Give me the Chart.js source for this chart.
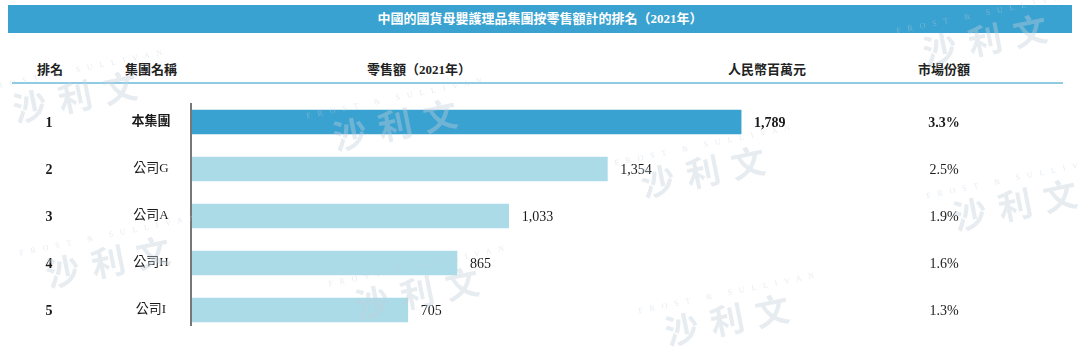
<!DOCTYPE html>
<html>
<head>
<meta charset="utf-8">
<script src="https://cdn.jsdelivr.net/npm/chart.js@4.4.0/dist/chart.umd.min.js"></script>
<style>
  body { margin: 0; background: #fff; }
  #wrap { position: relative; width: 1080px; height: 361px; overflow: hidden;
          font-family: "Liberation Serif", "Noto Sans CJK TC", serif; color: #222; }
  #title { position: absolute; left: 8px; top: 5px; width: 1064px; height: 28px;
           background: #3aa2d0; color: #fff; font-weight: bold; font-size: 13px;
           line-height: 28px; text-align: center; }
  .hd { position: absolute; top: 59px; font-size: 13px; font-weight: bold; color: #222;
        transform: translateX(-50%); white-space: nowrap; }
  #rule { position: absolute; left: 12px; top: 82px; width: 1051px; height: 2px; background: #8fcbe3; }
  canvas { position: absolute; left: 0; top: 0; z-index: 2; }
</style>
</head>
<body>
<div id="wrap">
  <div id="title">中國的國貨母嬰護理品集團按零售額計的排名（2021年）</div>
  <div class="hd" style="left:50px">排名</div>
  <div class="hd" style="left:151px">集團名稱</div>
  <div class="hd" style="left:419px">零售額（2021年）</div>
  <div class="hd" style="left:767px">人民幣百萬元</div>
  <div class="hd" style="left:944px">市場份額</div>
  <div id="rule"></div>
  <canvas id="chart1" width="1080" height="361"></canvas>
</div>
<script>
const ranks = ['1', '2', '3', '4', '5'];
const companies = ['本集團', '公司G', '公司A', '公司H', '公司I'];
const sales = [1789, 1354, 1033, 865, 705];
const shares = ['3.3%', '2.5%', '1.9%', '1.6%', '1.3%'];

const FONT = '"Liberation Serif", "Noto Sans CJK TC", serif';

// rows + axis line + value labels
const tablePlugin = {
  id: 'table',
  afterDatasetsDraw(chart) {
    const ctx = chart.ctx;
    const area = chart.chartArea;
    const yScale = chart.scales.y;
    const bars = chart.getDatasetMeta(0).data;

    ctx.save();
    ctx.strokeStyle = '#777';
    ctx.lineWidth = 2;
    ctx.beginPath();
    ctx.moveTo(area.left, area.top + 4.5);
    ctx.lineTo(area.left, area.bottom - 7.5);
    ctx.stroke();

    ctx.fillStyle = '#1a1a1a';
    ctx.textBaseline = 'middle';
    companies.forEach((name, i) => {
      const y = yScale.getPixelForValue(i);
      const bold = i === 0 ? 'bold ' : '';
      ctx.textAlign = 'center';
      ctx.font = 'bold 14px ' + FONT;
      ctx.fillText(ranks[i], 49, y + 1);
      ctx.font = bold + '13px ' + FONT;
      ctx.fillText(name, 151, y);
      ctx.font = bold + '14px ' + FONT;
      ctx.fillText(shares[i], 944, y + 1);
      ctx.textAlign = 'left';
      ctx.fillText(sales[i].toLocaleString('en-US'), bars[i].x + 13, y + 1);
    });
    ctx.restore();
  }
};

// faint Frost & Sullivan stamps
const stampSpots = [[75, 97], [395, 125], [703, 172], [1015, 205], [985, 40], [108, 262], [417, 293], [727, 320]];
const watermarkPlugin = {
  id: 'watermark',
  afterDraw(chart) {
    const ctx = chart.ctx;
    ctx.save();
    stampSpots.forEach(([x, y]) => {
      ctx.save();
      ctx.translate(x, y);
      ctx.rotate(-0.2);
      ctx.textAlign = 'center';
      ctx.textBaseline = 'middle';
      ctx.fillStyle = 'rgba(195, 207, 219, 0.4)';
      ctx.font = 'bold 34px "Noto Sans CJK SC", sans-serif';
      ['沙', '利', '文'].forEach((c, k) => ctx.fillText(c, (k - 1) * 46, 0));
      ctx.font = '8px "Liberation Serif", serif';
      ctx.letterSpacing = '7px';
      ctx.fillText('FROST & SULLIVAN', 8, -26);
      ctx.restore();
    });
    ctx.restore();
  }
};

new Chart(document.getElementById('chart1'), {
  type: 'bar',
  data: {
    labels: companies,
    datasets: [{
      data: sales,
      backgroundColor: sales.map((v, i) => i === 0 ? '#3aa2d0' : '#aadbe6'),
      borderWidth: 0,
      barThickness: 24
    }]
  },
  options: {
    indexAxis: 'y',
    responsive: false,
    animation: false,
    layout: { padding: { left: 191, right: 28, top: 98.5, bottom: 27.5 } },
    scales: {
      x: { display: false, min: 0, max: 2800 },
      y: { display: false }
    },
    plugins: {
      legend: { display: false },
      tooltip: { enabled: false }
    }
  },
  plugins: [tablePlugin, watermarkPlugin]
});
</script>
</body>
</html>
